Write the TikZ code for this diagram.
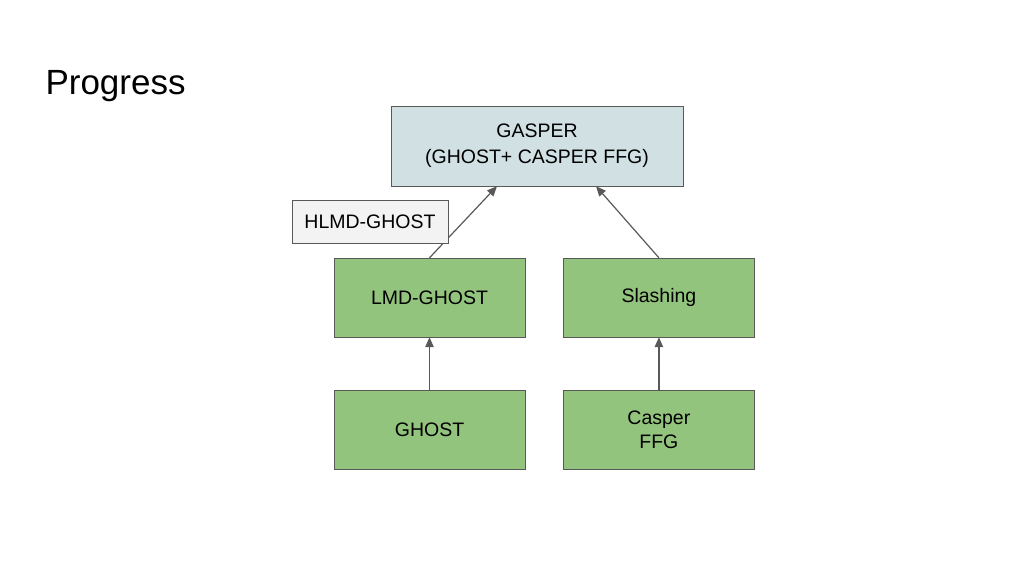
\documentclass[tikz,border=0pt]{standalone}
\usepackage{fontspec}
\setmainfont{Liberation Sans}
\usepackage{tikz}
\usetikzlibrary{arrows.meta,positioning,calc}
\definecolor{gasperblue}{HTML}{D0E0E3}
\definecolor{boxgreen}{HTML}{93C47D}
\definecolor{notegray}{HTML}{F3F3F3}
\definecolor{edgegray}{HTML}{595959}

\begin{document}
\begin{tikzpicture}[x=1pt,y=-1pt,
  box/.style={draw=edgegray,fill=boxgreen,minimum width=191pt,minimum height=79pt,
    align=center,inner sep=0pt,font=\fontsize{19.5}{24}\selectfont},
  link/.style={draw=edgegray,line width=1.2pt,-{Triangle[length=10pt,width=8.5pt]}}]
\useasboundingbox (0,0) rectangle (1024,576);
\node[anchor=base west,font=\fontsize{35}{40}\selectfont] (title) at (42,94) {Progress};
% top box
\node[box,fill=gasperblue,minimum width=292pt,minimum height=80pt,
  font=\fontsize{19.5}{26}\selectfont] (gasper) at (537,146) {GASPER\\(GHOST+ CASPER FFG)};
% green boxes
\node[box] (lmd) at (429.5,297.5) {LMD-GHOST};
\node[box,right=38pt of lmd] (slash) {Slashing};
\node[box,below=53pt of lmd] (ghost) {GHOST};
\node[box,below=53pt of slash] (ffg) {Casper\\FFG};
% arrows
\coordinate (gin1) at ([xshift=-40pt]gasper.south);
\coordinate (gin2) at ([xshift=59pt]gasper.south);
\draw[link] (lmd.north) -- (gin1);
\draw[link] (slash.north) -- (gin2);
\draw[link] (ghost) -- (lmd);
\draw[link] (ffg) -- (slash);
% note on top of the arrow
\node[box,fill=notegray,minimum width=156pt,minimum height=43pt] (hlmd) at (370,221.5) {HLMD-GHOST};
\end{tikzpicture}
\end{document}
